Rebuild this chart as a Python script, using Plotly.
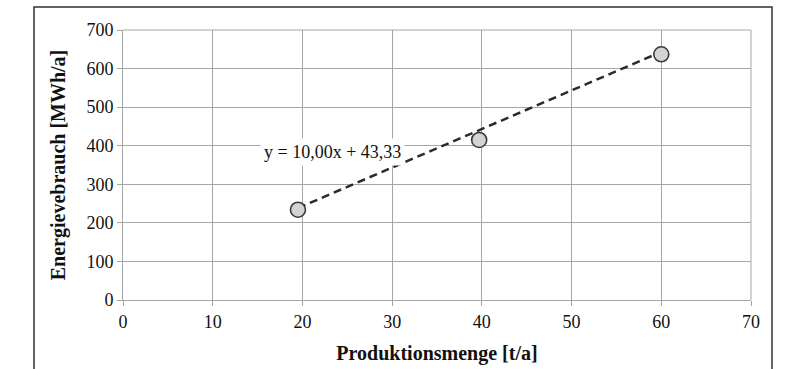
import plotly.graph_objects as go

# Data
produktionsmenge = [19.5, 39.7, 60.0]        # t/a
energieverbrauch = [234, 415, 637]          # MWh/a
trend_slope = 10.00
trend_intercept = 43.33
trend_label = "y = 10,00x + 43,33"
x_ticks = [0, 10, 20, 30, 40, 50, 60, 70]
y_ticks = [0, 100, 200, 300, 400, 500, 600, 700]

trend_x = [produktionsmenge[0], produktionsmenge[-1]]
trend_y = [trend_slope * v + trend_intercept for v in trend_x]

FONT = "Liberation Serif"
GRID = "#a6a6a6"

fig = go.Figure()
fig.add_trace(go.Scatter(
    x=trend_x, y=trend_y, mode="lines",
    line=dict(color="#2b2b2b", width=2.5, dash="8px,5px"),
    hoverinfo="skip", showlegend=False))
fig.add_trace(go.Scatter(
    x=produktionsmenge, y=energieverbrauch, mode="markers",
    marker=dict(size=15, color="#d3d3d3", line=dict(color="#3a3a3a", width=1.6)),
    showlegend=False))

fig.add_annotation(
    x=23.4, y=383, xref="x", yref="y", text=trend_label, showarrow=False,
    font=dict(family=FONT, size=18, color="#111"),
    bgcolor="white", borderpad=3)

# outer frame
L, R, T, B = 123, 751, 30, 299.7
W, H = R - L, B - T
fig.add_shape(type="rect", xref="paper", yref="paper",
              x0=(34 - L) / W, x1=(772 - L) / W,
              y0=(B - 400) / H, y1=(B - 7) / H,
              line=dict(color="#333", width=1.5), layer="below")

fig.update_layout(
    width=786, height=369,
    margin=dict(l=L, r=786 - R, t=T, b=369 - B),
    paper_bgcolor="white", plot_bgcolor="white",
    font=dict(family=FONT, size=18, color="#111"),
)
fig.update_xaxes(
    range=[0, 70], tickvals=x_ticks, showgrid=True, gridcolor=GRID, gridwidth=1,
    zeroline=False, showline=True, linecolor=GRID, linewidth=1,
    ticks="outside", ticklen=5, tickcolor=GRID, automargin=False,
    title=dict(text="<b>Produktionsmenge [t/a]</b>", font=dict(size=20)),
    tickfont=dict(size=18))
fig.update_yaxes(
    range=[0, 700], tickvals=y_ticks, showgrid=True, gridcolor=GRID, gridwidth=1,
    zeroline=False, showline=True, linecolor=GRID, linewidth=1,
    ticks="outside", ticklen=5, tickcolor=GRID, automargin=False,
    title=dict(text="<b>Energievebrauch [MWh/a]</b>", font=dict(size=20)),
    tickfont=dict(size=18))
fig.add_shape(type="line", xref="paper", yref="paper", x0=1, x1=1, y0=0, y1=1,
              line=dict(color=GRID, width=1))
fig.add_shape(type="line", xref="paper", yref="paper", x0=0, x1=1, y0=1, y1=1,
              line=dict(color=GRID, width=1))

fig.write_html("out.html", config={"displayModeBar": False},
               post_script="document.body.style.margin='0';document.body.style.overflow='hidden';")
